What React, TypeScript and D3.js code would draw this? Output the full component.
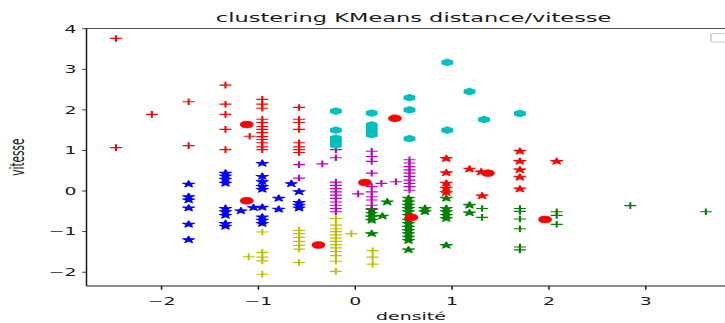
import * as d3 from 'd3'

// the reference image was stretched horizontally; draw in "native" units and widen by S
const S = 1.8
const W = 725
const H = 323
const PX = { l: 86.5, r: 735.4, t: 28.3, b: 286 }

const xTicks = [-2, -1, 0, 1, 2, 3]
const yTicks = [-2, -1, 0, 1, 2, 3, 4]
const xDomain: [number, number] = [-2.775, 3.925]
const yDomain: [number, number] = [-2.34, 4.01]

type P = [number, number]

const redPlus: P[] = [
  [-2.47, 3.76], [-2.47, 1.07], [-2.10, 1.89], [-1.72, 2.20], [-1.72, 1.12],
  [-1.34, 2.61], [-1.34, 2.14], [-1.34, 1.89], [-1.34, 1.52], [-1.34, 1.02], [-1.09, 1.35],
  [-0.96, 2.26], [-0.96, 2.14], [-0.96, 2.04], [-0.96, 1.77], [-0.96, 1.69], [-0.96, 1.59], [-0.96, 1.52],
  [-0.96, 1.44], [-0.96, 1.34], [-0.96, 1.27], [-0.96, 1.19], [-0.96, 1.09], [-0.96, 1.02],
  [-0.58, 2.06], [-0.58, 1.77], [-0.58, 1.69], [-0.58, 1.52], [-0.58, 1.19], [-0.58, 1.09], [-0.58, 1.02], [-0.58, 0.95],
]
const blueStar: P[] = [
  [-1.72, 0.17], [-1.72, -0.14], [-1.72, -0.22], [-1.72, -0.42], [-1.72, -0.82], [-1.72, -1.20],
  [-1.34, 0.44], [-1.34, 0.37], [-1.34, 0.29], [-1.34, 0.19], [-1.34, -0.43], [-1.34, -0.51], [-1.34, -0.60], [-1.34, -0.80], [-1.34, -0.87],
  [-1.18, -0.49], [-1.05, -0.41],
  [-0.96, 0.68], [-0.96, 0.36], [-0.96, 0.23], [-0.96, 0.11], [-0.96, 0.04], [-0.96, -0.40], [-0.96, -0.64], [-0.96, -0.72], [-0.96, -0.80],
  [-0.79, -0.18], [-0.79, -0.45], [-0.66, 0.18],
  [-0.58, -0.02], [-0.58, -0.28], [-0.58, -0.35], [-0.58, -0.42],
]
const yellowPlus: P[] = [
  [-1.10, -1.62],
  [-0.96, -1.01], [-0.96, -1.51], [-0.96, -1.63], [-0.96, -1.72], [-0.96, -2.05],
  [-0.58, -0.97], [-0.58, -1.05], [-0.58, -1.14], [-0.58, -1.24], [-0.58, -1.34], [-0.58, -1.43], [-0.58, -1.76],
  [-0.20, -0.68], [-0.20, -0.84], [-0.20, -0.93], [-0.20, -1.00], [-0.20, -1.08], [-0.20, -1.16], [-0.20, -1.24],
  [-0.20, -1.32], [-0.20, -1.40], [-0.20, -1.49], [-0.20, -1.59], [-0.20, -1.73], [-0.20, -1.98],
  [-0.04, -1.05], [0.18, -1.47], [0.18, -1.63], [0.18, -1.80],
]
const magentaPlus: P[] = [
  [-0.58, 0.65], [-0.58, 0.32], [-0.34, 0.67],
  [-0.20, 1.02], [-0.20, 0.82], [-0.20, 0.22], [-0.20, 0.14], [-0.20, 0.06], [-0.20, -0.02], [-0.20, -0.10],
  [-0.20, -0.18], [-0.20, -0.27], [-0.20, -0.35], [-0.20, -0.43], [-0.20, -0.51],
  [0.03, -0.07],
  [0.17, 0.98], [0.17, 0.85], [0.17, 0.73], [0.17, 0.44], [0.17, 0.11], [0.17, -0.02], [0.17, -0.14], [0.17, -0.22], [0.17, -0.35], [0.17, -0.43],
  [0.27, 0.19], [0.42, 0.23],
  [0.56, 0.77], [0.56, 0.69], [0.56, 0.60], [0.56, 0.52], [0.56, 0.44], [0.56, 0.36], [0.56, 0.27], [0.56, 0.19], [0.56, 0.11], [0.56, 0.02],
]
const cyanHex: P[] = [
  [-0.20, 1.97], [-0.20, 1.50], [-0.20, 1.30], [-0.20, 1.22], [-0.20, 1.13],
  [0.17, 1.92], [0.17, 1.63], [0.17, 1.55], [0.17, 1.47], [0.17, 1.39],
  [0.56, 2.30], [0.56, 2.00], [0.56, 1.29], [0.95, 3.17], [0.95, 1.50],
  [1.18, 2.45], [1.33, 1.76], [1.70, 1.91],
]
const greenStar: P[] = [
  [0.17, -0.47], [0.17, -0.55], [0.17, -0.64], [0.17, -0.72], [0.17, -1.05], [0.28, -0.62], [0.33, -0.27],
  [0.55, -0.18], [0.55, -0.27], [0.55, -0.35], [0.55, -0.43], [0.55, -0.51], [0.55, -0.60], [0.55, -0.72],
  [0.55, -0.80], [0.55, -0.89], [0.55, -0.97], [0.55, -1.05], [0.55, -1.14], [0.55, -1.22], [0.55, -1.45],
  [0.72, -0.43], [0.72, -0.51],
  [0.94, -0.18], [0.94, -0.43], [0.94, -0.51], [0.94, -0.60], [0.94, -0.68], [0.94, -1.34],
  [1.18, -0.35], [1.18, -0.54],
]
const redStar: P[] = [
  [0.94, 0.80], [0.94, 0.45], [0.94, 0.19], [0.94, 0.07], [0.94, -0.04],
  [1.18, 0.54], [1.30, 0.47], [1.31, -0.12],
  [1.70, 0.98], [1.70, 0.73], [1.70, 0.52], [1.70, 0.34], [1.70, 0.05], [2.08, 0.73],
]
const greenPlus: P[] = [
  [1.31, -0.43], [1.31, -0.65],
  [1.70, -0.43], [1.70, -0.50], [1.70, -0.69], [1.70, -0.93], [1.70, -1.38], [1.70, -1.45],
  [2.08, -0.51], [2.08, -0.60], [2.08, -0.82], [2.84, -0.36], [3.62, -0.51],
]
const centroids: P[] = [
  [-1.12, 1.64], [-1.12, -0.24], [-0.38, -1.33], [0.10, 0.21], [0.41, 1.79], [0.58, -0.65], [1.37, 0.44], [1.96, -0.70],
]

const R = 3.5
function polyPath(n: number, rOut: number, rIn: number | null): string {
  const pts: string[] = []
  const count = rIn == null ? n : n * 2
  for (let i = 0; i < count; i++) {
    const a = -Math.PI / 2 + (i * 2 * Math.PI) / count
    const r = rIn == null || i % 2 === 0 ? rOut : rIn
    pts.push(`${(r * Math.cos(a)).toFixed(2)},${(r * Math.sin(a)).toFixed(2)}`)
  }
  return 'M' + pts.join('L') + 'Z'
}
const STAR = polyPath(5, R, R * 0.382)
const HEX = polyPath(6, R * 0.95, null)
const PLUS = `M${-3.3},0H${3.3}M0,${-3.3}V${3.3}`

const FONT = 'DejaVu Sans, sans-serif'
const INK = '#1a1a1a'

export default function App() {
  const x = d3.scaleLinear().domain(xDomain).range([PX.l / S, PX.r / S])
  const y = d3.scaleLinear().domain(yDomain).range([PX.b, PX.t])
  const x0 = PX.l / S
  const x1 = PX.r / S

  const series: { data: P[]; color: string; kind: 'plus' | 'star' | 'hex' }[] = [
    { data: redPlus, color: '#ff0000', kind: 'plus' },
    { data: blueStar, color: '#0000ff', kind: 'star' },
    { data: yellowPlus, color: '#bfbf00', kind: 'plus' },
    { data: magentaPlus, color: '#bf00bf', kind: 'plus' },
    { data: cyanHex, color: '#00bfbf', kind: 'hex' },
    { data: greenStar, color: '#008000', kind: 'star' },
    { data: redStar, color: '#ff0000', kind: 'star' },
    { data: greenPlus, color: '#008000', kind: 'plus' },
  ]

  return (
    <svg width={W} height={H} style={{ position: 'absolute', left: 0, top: 0, background: '#fff' }}>
      <g transform={`scale(${S},1)`} fontFamily={FONT}>
        {series.map((s, si) => (
          <g key={si}>
            {s.data.map((d, i) =>
              s.kind === 'plus' ? (
                <path key={i} d={PLUS} transform={`translate(${x(d[0])},${y(d[1])})`} stroke={s.color} strokeWidth={1.15} fill="none" />
              ) : (
                <path key={i} d={s.kind === 'star' ? STAR : HEX} transform={`translate(${x(d[0])},${y(d[1])})`} fill={s.color} stroke={s.color} strokeWidth={0.8} strokeLinejoin="round" />
              )
            )}
          </g>
        ))}
        {centroids.map((d, i) => (
          <circle key={i} cx={x(d[0])} cy={y(d[1])} r={3.5} fill="#ff0000" stroke="#ff0000" strokeWidth={0.6} />
        ))}

        {/* spines */}
        <line x1={x0} x2={x0} y1={PX.t} y2={PX.b} stroke={INK} strokeWidth={0.84} />
        <line x1={x0} x2={x1} y1={PX.t} y2={PX.t} stroke={INK} strokeWidth={0.84} />
        <line x1={x0} x2={x1} y1={PX.b} y2={PX.b} stroke={INK} strokeWidth={0.84} />
        <line x1={x1} x2={x1} y1={PX.t} y2={PX.b} stroke={INK} strokeWidth={0.84} />

        {xTicks.map((t) => (
          <g key={t}>
            <line x1={x(t)} x2={x(t)} y1={PX.b} y2={PX.b + 3.7} stroke={INK} strokeWidth={0.84} />
            <text x={x(t)} y={PX.b + 19} textAnchor="middle" fontSize={10.5} fill={INK}>{t < 0 ? `\u2212${-t}` : t}</text>
          </g>
        ))}
        {yTicks.map((t) => (
          <g key={t}>
            <line x1={x0 - 2.4} x2={x0} y1={y(t)} y2={y(t)} stroke={INK} strokeWidth={0.84} />
            <text x={x0 - 5.5} y={y(t) + 3.8} textAnchor="end" fontSize={10.5} fill={INK}>{t < 0 ? `\u2212${-t}` : t}</text>
          </g>
        ))}

        <text x={(x0 + x1) / 2} y={PX.b + 34} textAnchor="middle" fontSize={10.5} fill={INK}>densité</text>
        <text transform={`translate(13.5,${(PX.t + PX.b) / 2}) rotate(-90)`} textAnchor="middle" fontSize={10.5} fill={INK}>vitesse</text>
        <text x={(x0 + x1) / 2 + 1.5} y={PX.t - 6.5} textAnchor="middle" fontSize={12.5} fill={INK}>clustering KMeans distance/vitesse</text>

        {/* empty legend frame */}
        <rect x={x1 - 5.25 - 8.4} y={PX.t + 5.25} width={8.4} height={8.4} rx={1.5} fill="#fff" fillOpacity={0.8} stroke="#cccccc" strokeWidth={0.9} />
      </g>
    </svg>
  )
}
